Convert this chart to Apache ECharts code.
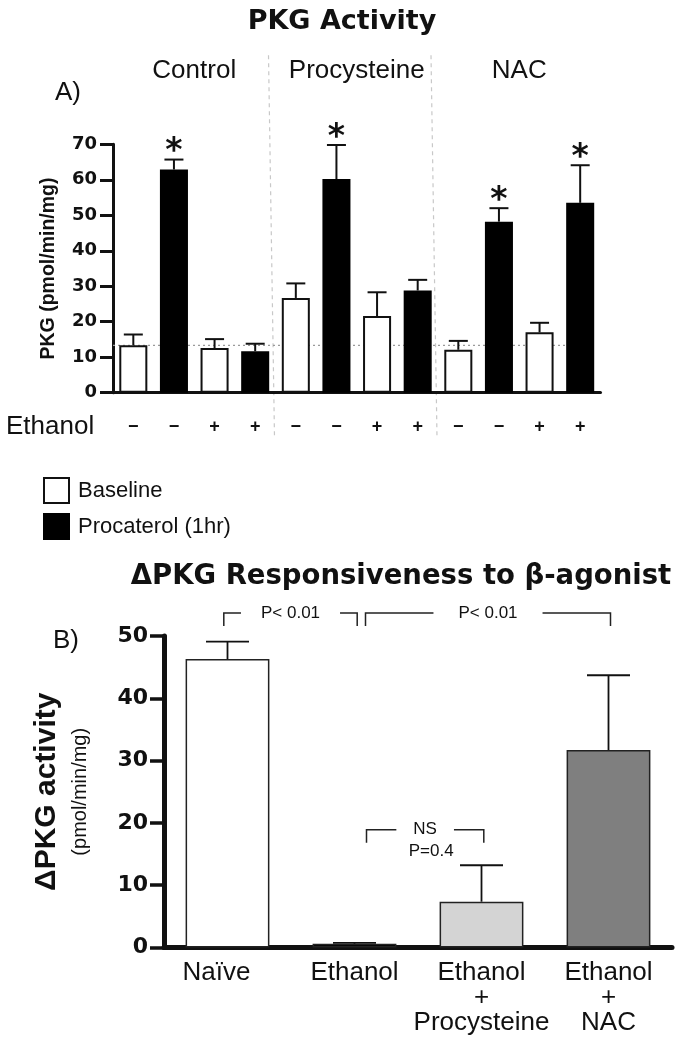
<!DOCTYPE html>
<html>
<head>
<meta charset="utf-8">
<script src="https://cdn.jsdelivr.net/npm/echarts@6/dist/echarts.min.js"></script>
<style>html,body{margin:0;padding:0;background:#fff}#c{width:685px;height:1050px}</style>
</head>
<body>
<div id="c"></div>
<script>
// ---------- Panel A data ----------
const groupNames = ['Control', 'Procysteine', 'NAC'];
const ethanolSigns = ['−', '−', '+', '+', '−', '−', '+', '+', '−', '−', '+', '+'];
const barTreatment = ['Baseline', 'Procaterol (1hr)', 'Baseline', 'Procaterol (1hr)',
                      'Baseline', 'Procaterol (1hr)', 'Baseline', 'Procaterol (1hr)',
                      'Baseline', 'Procaterol (1hr)', 'Baseline', 'Procaterol (1hr)'];
const pkgMean = [13.4, 62.9, 12.6, 11.7, 26.7, 60.2, 21.6, 28.8, 12.1, 48.2, 17.0, 53.5];
const pkgSem  = [3.0, 2.8, 2.5, 2.1, 4.1, 9.6, 6.7, 3.0, 2.5, 3.8, 2.7, 10.6];
const pkgStar = [0, 1, 0, 0, 0, 1, 0, 0, 0, 1, 0, 1];
const controlBaselineLevel = 13.35;

// ---------- Panel B data ----------
const deltaCategories = ['Naïve', 'Ethanol', 'Ethanol\n+\nProcysteine', 'Ethanol\n+\nNAC'];
const deltaMean = [46.3, 0.6, 7.35, 31.7];
const deltaSem  = [2.8, 0.15, 5.85, 12.0];
const deltaColors = ['#ffffff', '#000000', '#d4d4d4', '#7f7f7f'];
const brackets = [
  { from: 0, to: 1, label: 'P< 0.01', sub: '' },
  { from: 1, to: 3, label: 'P< 0.01', sub: '' },
  { from: 1, to: 2, label: 'NS', sub: 'P=0.4' }
];
const bracketLevels = [53.7, 53.7, 18.9];

// ---------- layout / styling ----------
const FONT = "'Liberation Sans', Arial, sans-serif";
const FONT_B = "'DejaVu Sans', 'Liberation Sans', sans-serif";
const INK = '#111';
const bracketNudge = [[-3.7, 2.7], [11, 2], [12, 2.3]];
const bracketGapPad = [20, 25, 17];

const chart = echarts.init(document.getElementById('c'), null, { renderer: 'canvas', width: 685, height: 1050 });

const panelACats = ethanolSigns.map((s, i) => groupNames[Math.floor(i / 4)] + ' ' + s + ' ' + barTreatment[i]);
const baselineData = pkgMean.map((v, i) => barTreatment[i] === 'Baseline' ? v : '-');
const procData = pkgMean.map((v, i) => barTreatment[i] !== 'Baseline' ? v : '-');
const groupSize = ethanolSigns.length / groupNames.length;
const separators = groupNames.slice(1).map((g, k) => [(k + 1) * groupSize - 1, (k + 1) * groupSize]);

function errorBars(capW, lw, starFont) {
  return function (params, api) {
    const i = api.value(0), m = api.value(1), e = api.value(2), s = api.value(3);
    const p0 = api.coord([i, m]), p1 = api.coord([i, m + e]);
    const ch = [
      { type: 'line', shape: { x1: p0[0], y1: p0[1], x2: p1[0], y2: p1[1] }, style: { stroke: INK, lineWidth: lw } },
      { type: 'line', shape: { x1: p1[0] - capW / 2, y1: p1[1], x2: p1[0] + capW / 2, y2: p1[1] }, style: { stroke: INK, lineWidth: lw } }
    ];
    if (s) {
      ch.push({ type: 'text', style: { text: '*', x: p1[0], y: p1[1] - 7, align: 'center', verticalAlign: 'middle', font: starFont, fill: INK } });
    }
    return { type: 'group', children: ch };
  };
}

const option = {
  animation: false,
  backgroundColor: '#fff',
  textStyle: { fontFamily: FONT, color: INK },
  grid: [
    { left: 113, top: 144.3, width: 487.5, height: 248.4 },
    { left: 164, top: 636, width: 508, height: 311.5 }
  ],
  legend: {
    orient: 'vertical', left: 43, top: 477, itemWidth: 25, itemHeight: 25, itemGap: 9,
    padding: 0, selectedMode: false, icon: 'rect',
    data: ['Baseline', 'Procaterol (1hr)'],
    textStyle: { fontFamily: FONT, fontSize: 22, color: INK, padding: [0, 0, 0, 4] }
  },
  graphic: [
    { type: 'text', x: 342, y: 22, style: { text: 'PKG Activity', font: "bold 27px 'DejaVu Sans'", fill: INK, align: 'center', verticalAlign: 'middle' } },
    { type: 'text', x: 68, y: 93, style: { text: 'A)', font: "26px 'Liberation Sans'", fill: INK, align: 'center', verticalAlign: 'middle' } },
    { type: 'text', x: 6, y: 427, style: { text: 'Ethanol', font: "26px 'Liberation Sans'", fill: INK, align: 'left', verticalAlign: 'middle' } },
    { type: 'text', x: 401, y: 577, style: { text: 'ΔPKG Responsiveness to β-agonist', font: "bold 27.5px 'DejaVu Sans'", fill: INK, align: 'center', verticalAlign: 'middle' } },
    { type: 'text', x: 66, y: 641, style: { text: 'B)', font: "26px 'Liberation Sans'", fill: INK, align: 'center', verticalAlign: 'middle' } }
  ],
  xAxis: [
    {
      gridIndex: 0, type: 'category', data: panelACats,
      axisLine: { lineStyle: { color: INK, width: 3 } }, axisTick: { show: false },
      axisLabel: { interval: 0, formatter: (v, i) => ethanolSigns[i], fontSize: 18, fontWeight: 'bold', color: INK, margin: 34, verticalAlign: 'middle' }
    },
    {
      gridIndex: 0, type: 'category', position: 'top', data: groupNames,
      axisLine: { show: false }, axisTick: { show: false },
      axisLabel: { interval: 0, fontSize: 26, color: INK, margin: 73, verticalAlign: 'middle' }
    },
    {
      gridIndex: 1, type: 'category', data: deltaCategories,
      axisLine: { lineStyle: { color: INK, width: 5 } }, axisTick: { show: false },
      axisLabel: {
        interval: 0, fontSize: 26, lineHeight: 25, color: INK, margin: 13,
        formatter: (v, i) => i === 0 ? '{n|' + v + '}' : v,
        rich: { n: { fontSize: 26, lineHeight: 25, color: INK, padding: [0, 22, 0, 0] } }
      }
    }
  ],
  yAxis: [
    {
      gridIndex: 0, type: 'value', min: 0, max: 70, interval: 10,
      axisLine: { show: true, lineStyle: { color: INK, width: 3 } },
      axisTick: { show: true, length: 13, lineStyle: { color: INK, width: 3 } },
      axisLabel: { fontFamily: FONT_B, fontWeight: 'bold', fontSize: 18, color: INK, margin: 16 },
      splitLine: { show: false },
      name: 'PKG (pmol/min/mg)', nameLocation: 'middle', nameGap: 54,
      nameTextStyle: { fontFamily: FONT, fontWeight: 'bold', fontSize: 19.5, color: INK }
    },
    {
      gridIndex: 1, type: 'value', min: 0, max: 50, interval: 10,
      axisLine: { show: true, lineStyle: { color: INK, width: 5 } },
      axisTick: { show: true, length: 14, lineStyle: { color: INK, width: 3.5 } },
      axisLabel: { fontFamily: FONT_B, fontWeight: 'bold', fontSize: 22, color: INK, margin: 16 },
      splitLine: { show: false },
      name: '{a|ΔPKG activity}\n{b|(pmol/min/mg)}', nameLocation: 'middle', nameGap: 70,
      nameTextStyle: {
        rich: {
          a: { fontFamily: FONT, fontWeight: 'bold', fontSize: 30, lineHeight: 38, color: INK },
          b: { fontFamily: FONT, fontSize: 20, lineHeight: 28, color: INK }
        }
      }
    }
  ],
  series: [
    {
      type: 'bar', name: 'Baseline', xAxisIndex: 0, yAxisIndex: 0, data: baselineData,
      barWidth: '69%', barGap: '-100%', z: 3,
      itemStyle: { color: '#ffffff', borderColor: INK, borderWidth: 2 }
    },
    {
      type: 'bar', name: 'Procaterol (1hr)', xAxisIndex: 0, yAxisIndex: 0, data: procData,
      barWidth: '69%', barGap: '-100%', z: 3,
      itemStyle: { color: '#000000', borderColor: '#000000', borderWidth: 2 }
    },
    {
      type: 'custom', name: 'errA', xAxisIndex: 0, yAxisIndex: 0, z: 4,
      data: pkgMean.map((m, i) => [i, m, pkgSem[i], pkgStar[i]]),
      renderItem: errorBars(19, 2, "bold 33px 'DejaVu Sans'")
    },
    {
      type: 'custom', name: 'refLine', xAxisIndex: 0, yAxisIndex: 0, z: 1,
      data: [[0, controlBaselineLevel]],
      renderItem: function (params, api) {
        const cs = params.coordSys;
        const y = api.coord([0, api.value(1)])[1];
        const bw = api.size([1, 0])[0];
        const xEnd = api.coord([pkgMean.length - 1, 0])[0] - bw * 0.345;
        return { type: 'line', shape: { x1: cs.x, y1: y, x2: xEnd, y2: y }, style: { stroke: '#9a9a9a', lineWidth: 1.2, lineDash: [2, 3] } };
      }
    },
    {
      type: 'custom', name: 'separators', xAxisIndex: 0, yAxisIndex: 0, z: 0,
      data: separators,
      renderItem: function (params, api) {
        const cs = params.coordSys;
        const xa = api.coord([api.value(0), 0])[0], xb = api.coord([api.value(1), 0])[0];
        const mid = (xa + xb) / 2;
        return { type: 'line', shape: { x1: mid - 7, y1: cs.y - 89, x2: mid - 1, y2: cs.y + cs.height + 45 }, style: { stroke: '#c8c8c8', lineWidth: 1.2, lineDash: [4, 4] } };
      }
    },
    {
      type: 'bar', name: 'delta', xAxisIndex: 2, yAxisIndex: 1, barWidth: '66%', z: 3,
      data: deltaMean.map((v, i) => ({ value: v, itemStyle: { color: deltaColors[i] } })),
      itemStyle: { borderColor: '#222', borderWidth: 1.5 }
    },
    {
      type: 'custom', name: 'errB', xAxisIndex: 2, yAxisIndex: 1, z: 4,
      data: deltaMean.map((m, i) => [i, m, deltaSem[i], 0]),
      renderItem: errorBars(43, 1.8, '')
    },
    {
      type: 'custom', name: 'brackets', xAxisIndex: 2, yAxisIndex: 1, z: 5,
      data: brackets.map(b => [b.from, b.to]),
      renderItem: function (params, api) {
        const k = params.dataIndex, b = brackets[k];
        const lvl = bracketLevels[k];
        const pa = api.coord([b.from, lvl]), pb = api.coord([b.to, lvl]);
        const x1 = pa[0] + bracketNudge[k][0], x2 = pb[0] + bracketNudge[k][1], y = pa[1];
        const drop = 13;
        const ch = [
          { type: 'polyline', shape: { points: [[x1, y + drop], [x1, y], [x2, y], [x2, y + drop]] }, style: { stroke: '#222', lineWidth: 1.5, fill: null } },
          { type: 'text', style: { text: b.label, x: (x1 + x2) / 2, y: y, align: 'center', verticalAlign: 'middle', font: "17px 'Liberation Sans'", fill: INK, backgroundColor: '#fff', padding: [2, bracketGapPad[k]] } }
        ];
        if (b.sub) {
          ch.push({ type: 'text', style: { text: b.sub, x: (x1 + x2) / 2 + 6, y: y + 22, align: 'center', verticalAlign: 'middle', font: "17px 'Liberation Sans'", fill: INK } });
        }
        return { type: 'group', children: ch };
      }
    }
  ]
};
chart.setOption(option);
</script>
</body>
</html>
